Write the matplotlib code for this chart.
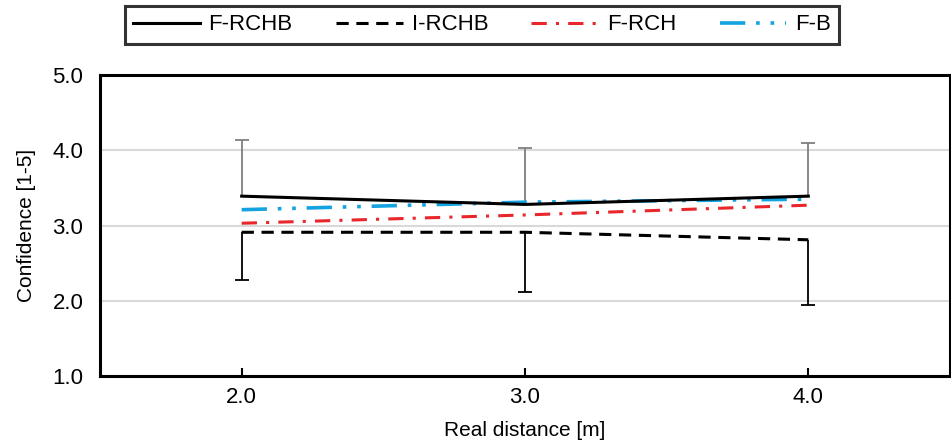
import matplotlib.pyplot as plt

plt.rcParams['font.family'] = ['Liberation Sans', 'DejaVu Sans']

distance = [2.0, 3.0, 4.0]
tick_labels = ['2.0', '3.0', '4.0']
f_rchb = [3.39, 3.28, 3.39]
i_rchb = [2.91, 2.91, 2.81]
f_rch = [3.03, 3.14, 3.27]
f_b = [3.21, 3.31, 3.35]
# only the upper error of F-RCHB and the lower error of I-RCHB are shown
f_rchb_err_up = [0.75, 0.75, 0.71]
i_rchb_err_down = [0.64, 0.79, 0.87]

fig = plt.figure(figsize=(9.51, 4.44), dpi=100)
ax = fig.add_axes([100/951, 1-376/444, 850/951, 301/444])

ax.plot(distance, f_rchb, color='black', lw=2.2, label='F-RCHB', zorder=5)
ax.plot(distance, i_rchb, color='black', lw=2.2, ls=(0, (4, 2.5)), label='I-RCHB', zorder=4)
ax.plot(distance, f_rch, color='#e8262b', lw=2.2, ls=(0, (5, 3, 1, 3)), label='F-RCH', zorder=3)
ax.plot(distance, f_b, color='#12a3e0', lw=2.6, ls=(0, (7, 3, 1, 3, 1, 3)), label='F-B', zorder=4)

# one-sided error bars
up_tip = [m + e for m, e in zip(f_rchb, f_rchb_err_up)]
low_tip = [m - e for m, e in zip(i_rchb, i_rchb_err_down)]
ax.vlines(distance, f_rchb, up_tip, color='#7f7f7f', lw=1.3, zorder=2)
ax.plot(distance, up_tip, ls='none', marker='_', ms=10, mew=1.3, color='#7f7f7f', zorder=2)
ax.vlines(distance, low_tip, i_rchb, color='black', lw=1.3, zorder=2)
ax.plot(distance, low_tip, ls='none', marker='_', ms=10, mew=1.3, color='black', zorder=2)

ax.set_xlim(1.5, 4.5)
ax.set_ylim(1.0, 5.0)
ax.set_xticks(distance)
ax.set_xticklabels(tick_labels)
ax.set_yticks([1.0, 2.0, 3.0, 4.0, 5.0])
ax.set_yticklabels(['1.0', '2.0', '3.0', '4.0', '5.0'])
ax.tick_params(axis='x', direction='in', length=6, width=1.5, labelsize=16, pad=8)
ax.tick_params(axis='y', length=0, labelsize=16, pad=12)
ax.grid(axis='y', color='#d9d9d9', lw=1.5)
ax.set_axisbelow(True)
for s in ax.spines.values():
    s.set_linewidth(2.2)
    s.set_color('black')

ax.set_xlabel('Real distance [m]', fontsize=15, labelpad=9)
ax.set_ylabel('Confidence [1-5]', fontsize=15, labelpad=12)

leg = fig.legend(loc='center', bbox_to_anchor=(482/951, 1-25/444), ncol=4,
                 fontsize=16, handlelength=3.0, handletextpad=0.4, columnspacing=1.95,
                 frameon=True, fancybox=False, borderpad=0.38)
leg.get_frame().set_edgecolor('black')
leg.get_frame().set_linewidth(2.2)

fig.savefig('out.png', dpi=100)
